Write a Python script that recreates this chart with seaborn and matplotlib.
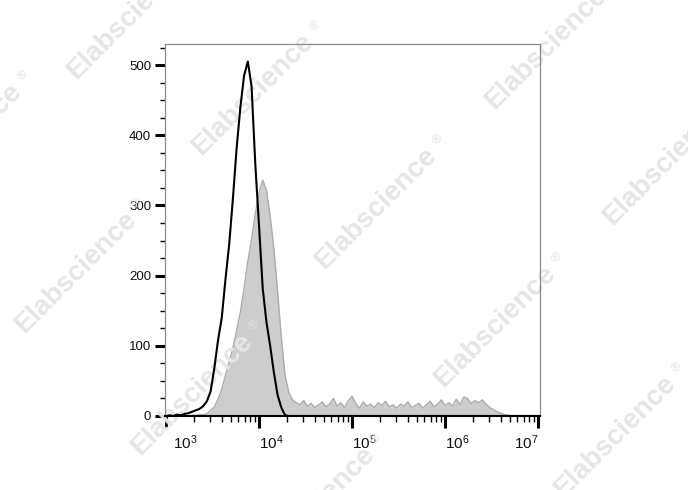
"""Flow cytometry overlay histogram (isotype vs stained)."""

import matplotlib

matplotlib.use("Agg")
import matplotlib.pyplot as plt
import matplotlib.transforms as mtransforms
import numpy as np
import pandas as pd
import seaborn as sns
from matplotlib.ticker import FixedLocator, LogLocator, MultipleLocator, NullFormatter

# bin centres in log10 units, 3.00 .. 7.00 step 0.04
log_centers = np.round(np.arange(3.0, 7.001, 0.04), 2)

# black outline (control)
black_counts = [
    0, 1, 0, 2, 1, 3, 4, 6, 8, 10,
    14, 21, 35, 68, 108, 140, 195, 245, 310, 382,
    440, 485, 505, 470, 360, 272, 182, 134, 100, 62,
    30, 12, 1, 0, 0, 0, 0,
] + [0] * 64

# grey filled (stained sample)
gray_counts = [
    0, 0, 0, 0, 0, 0, 0,
    1, 1, 2, 2, 3, 8, 13, 24, 38, 58,
    78, 97, 122, 148, 182, 220, 252, 288, 318, 336,
    322, 285, 238, 178, 112, 58, 34, 23, 19, 16,
    22, 14, 18, 12, 16, 20, 13, 17, 25, 14,
    19, 12, 22, 28, 18, 11, 20, 14, 17, 12,
    19, 15, 21, 13, 16, 11, 17, 14, 20, 12,
    15, 18, 11, 16, 21, 13, 17, 23, 15, 19,
    14, 24, 16, 27, 25, 18, 22, 19, 23, 17,
    12, 9, 6, 4, 2, 1, 0, 0, 0, 0,
    0, 0, 0, 0,
]

xtick_values = [1e3, 1e4, 1e5, 1e6, 1e7]
xtick_labels = ["$10^{3}$", "$10^{4}$", "$10^{5}$", "$10^{6}$", "$10^{7}$"]
ytick_values = [0, 100, 200, 300, 400, 500]

watermark_text = "Elabscience"
watermark_mark = "®"
# watermark centres, figure pixels from top-left
watermark_xy = [
    (128, 18), (253, 94), (376, 208), (495, 326), (615, 436),
    (546, 48), (664, 164), (76, 272), (192, 394), (314, 507), (-39, 144),
]

df = pd.DataFrame({
    "value": 10 ** log_centers,
    "control": black_counts,
    "sample": gray_counts,
})

sns.set_theme(style="white")
plt.rcParams["font.family"] = ["Liberation Sans", "DejaVu Sans"]
plt.rcParams["mathtext.default"] = "regular"

W, H = 688, 490
fig = plt.figure(figsize=(W / 100, H / 100), dpi=100)
ax = fig.add_axes([165 / W, 1 - 416 / H, 375 / W, 372 / H])

ax.fill_between(df["value"], 0, df["sample"], color="#cdcdcd", lw=0, zorder=1)
sns.lineplot(data=df, x="value", y="sample", ax=ax, color="#acacac", lw=1.0, zorder=1.2)
sns.lineplot(data=df, x="value", y="control", ax=ax, color="black", lw=1.5, zorder=3)

ax.set_xscale("log")
ax.set_xlim(10 ** 2.99, 10 ** 7.02)
ax.set_ylim(0, 530)
ax.set_xlabel("")
ax.set_ylabel("")

ax.xaxis.set_major_locator(FixedLocator(xtick_values))
ax.xaxis.set_minor_locator(LogLocator(base=10, subs=np.arange(2, 10)))
ax.xaxis.set_minor_formatter(NullFormatter())
ax.set_xticks(xtick_values)
ax.set_xticklabels(xtick_labels)
ax.yaxis.set_major_locator(FixedLocator(ytick_values))
ax.yaxis.set_minor_locator(MultipleLocator(25))

ax.tick_params(axis="both", which="major", direction="out", color="black",
               labelcolor="#111111")
ax.tick_params(axis="x", which="major", length=8.5, width=2.2, pad=4, bottom=True,
               labelsize=11)
ax.tick_params(axis="x", which="minor", length=4, width=1, bottom=True, color="black")
ax.tick_params(axis="y", which="major", length=7, width=2.2, pad=3, left=True,
               labelsize=9.5)
ax.tick_params(axis="y", which="minor", length=3.5, width=1, left=True, color="black")

# FlowJo-style label placement: left aligned at ticks, ends pulled inside
labels = ax.get_xticklabels()
for lab in labels:
    lab.set_horizontalalignment("left")
labels[0].set_transform(labels[0].get_transform()
                        + mtransforms.ScaledTranslation(0.07, 0, fig.dpi_scale_trans))
labels[-1].set_horizontalalignment("right")

for side in ["top", "right", "left"]:
    ax.spines[side].set_color("#8c8c8c")
    ax.spines[side].set_linewidth(0.9)
ax.spines["bottom"].set_color("black")
ax.spines["bottom"].set_linewidth(1.5)

for x, y in watermark_xy:
    ax.text(x / W, 1 - y / H, watermark_text, transform=fig.transFigure,
            fontsize=20, fontweight="bold", color="#e6e6e6", rotation=45,
            ha="center", va="center", rotation_mode="anchor",
            clip_on=False, zorder=1.5)
    ax.text((x + 62) / W, 1 - (y - 68) / H, watermark_mark, transform=fig.transFigure,
            fontsize=9, color="#e2e2e2", rotation=45,
            ha="center", va="center", rotation_mode="anchor",
            clip_on=False, zorder=1.5)

fig.savefig("out.png", dpi=100)
plt.close(fig)
